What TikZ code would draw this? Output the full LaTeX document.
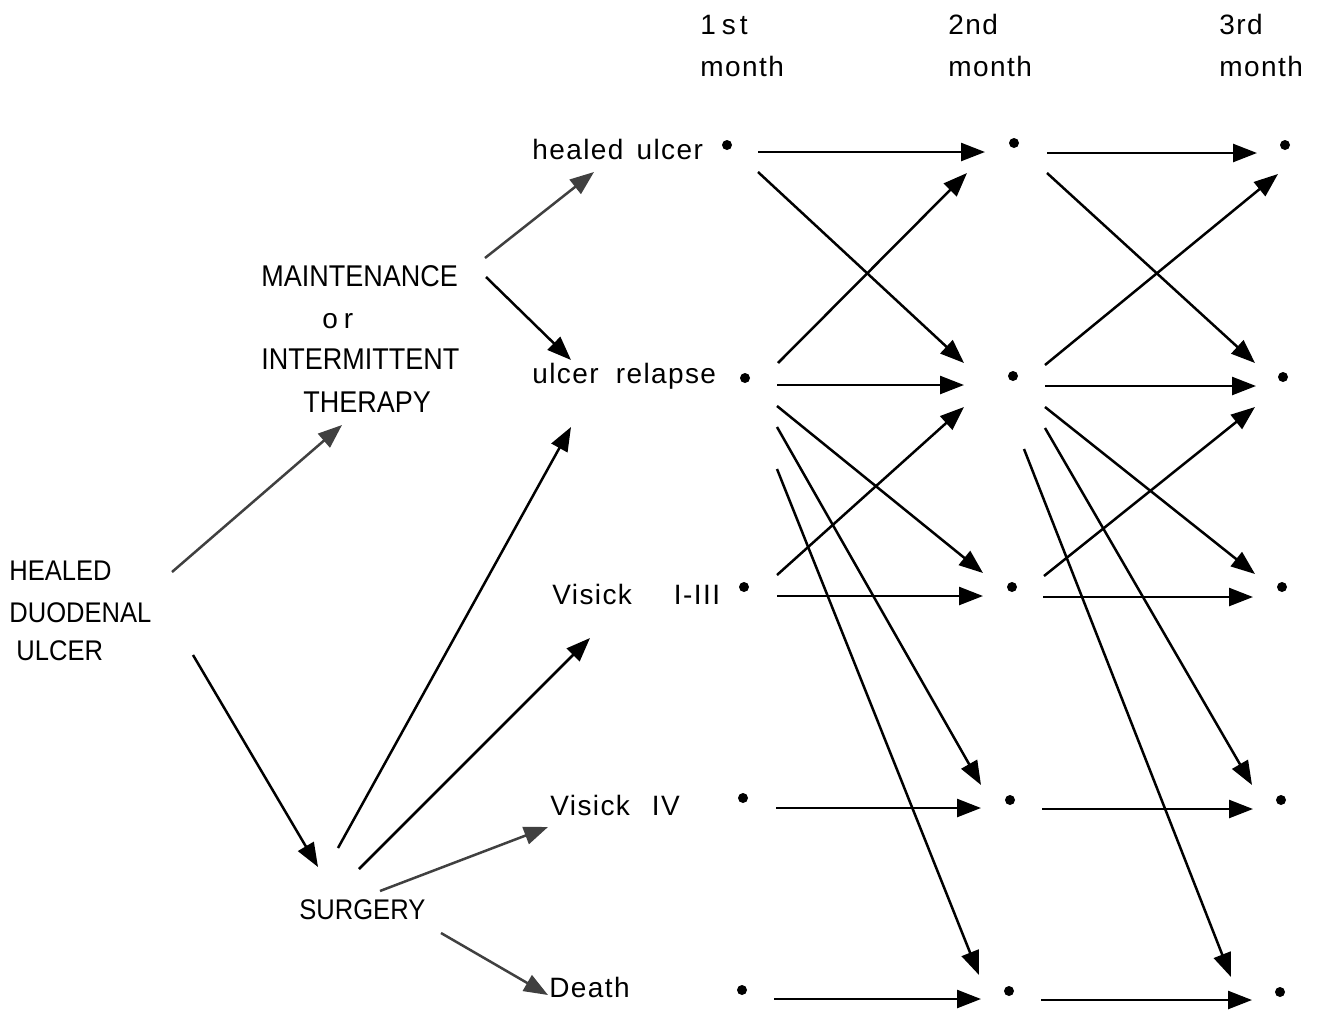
\documentclass[tikz,border=0pt]{standalone}
\usepackage{fontspec}
\setmainfont{Liberation Sans}
\newfontfamily\lowfont[LetterSpace=5]{Liberation Sans}
\newfontfamily\capfont[FakeStretch=0.9]{Liberation Sans}
\usetikzlibrary{arrows.meta}

\begin{document}
\begin{tikzpicture}[x=0.5pt,y=-0.5pt,
  lbl/.style={inner sep=0pt, anchor=base west, font=\lowfont\fontsize{14}{17}\selectfont},
  caplbl/.style={inner sep=0pt, anchor=base west, font=\capfont\fontsize{15}{18}\selectfont},
  smallcap/.style={caplbl, font=\capfont\fontsize{14.2}{17}\selectfont},
  stage/.style={circle, fill=black, inner sep=0pt, minimum size=5pt},
  arr/.style={-{Triangle[length=12pt,width=9pt]}, line width=1.25pt, draw=black},
  softarr/.style={-{Triangle[length=12pt,width=9pt]}, line width=1.25pt, draw=black!75, fill=black!75}]

\useasboundingbox[fill=white] (0,0) rectangle (1318,1013);

% ---- column headings ----
\node[lbl] (h1a) at (700,34) {1\hspace{3pt}s\hspace{2pt}t};
\node[lbl] (h1b) at (700,76) {month};
\node[lbl] (h2a) at (948,34) {2nd};
\node[lbl] (h2b) at (948,76) {month};
\node[lbl] (h3a) at (1219,34) {3rd};
\node[lbl] (h3b) at (1219,76) {month};

% ---- starting state and treatments ----
\node[smallcap] (hdu1) at (9,580) {HEALED};
\node[smallcap] (hdu2) at (9,622) {DUODENAL};
\node[smallcap] (hdu3) at (16,660) {ULCER};
\node[caplbl] (mt1) at (261,286) {MAINTENANCE};
\node[lbl]    (mt2) at (322,328) {o\hspace{3pt}r};
\node[caplbl] (mt3) at (261,369) {INTERMITTENT};
\node[caplbl] (mt4) at (303,412) {THERAPY};
\node[smallcap] (surg) at (299,919) {SURGERY};

% ---- outcome states ----
\node[lbl] (sheal) at (532,159) {healed\hspace{2pt} ulcer};
\node[lbl] (srel)  at (532,383) {ulcer\hspace{4pt} relapse};
\node[lbl] (svis1) at (552,604) {Visick\hspace{21pt}I-III};
\node[lbl] (svis4) at (550,815) {Visick\hspace{11pt}IV};
\node[lbl] (sdeath) at (549,997) {Death};

% ---- monthly stage dots ----
\node[stage] (a1) at (727,145) {};
\node[stage] (a2) at (745,378) {};
\node[stage] (a3) at (744,587) {};
\node[stage] (a4) at (743,798) {};
\node[stage] (a5) at (742,990) {};
\node[stage] (b1) at (1014,143) {};
\node[stage] (b2) at (1013,376) {};
\node[stage] (b3) at (1012,587) {};
\node[stage] (b4) at (1010,800) {};
\node[stage] (b5) at (1009,991) {};
\node[stage] (c1) at (1285,145) {};
\node[stage] (c2) at (1283,377) {};
\node[stage] (c3) at (1282,587) {};
\node[stage] (c4) at (1281,800) {};
\node[stage] (c5) at (1280,992) {};

% ---- arrow end points: treatment choice ----
\coordinate (p1s) at (172,572);  \coordinate (p1t) at (342,425);
\coordinate (p2s) at (193,655);  \coordinate (p2t) at (318,867);
\coordinate (p3s) at (485,258);  \coordinate (p3t) at (594,172);
\coordinate (p4s) at (486,277);  \coordinate (p4t) at (571,360);
\coordinate (p5s) at (338,848);  \coordinate (p5t) at (571,427);
\coordinate (p6s) at (359,869);  \coordinate (p6t) at (590,638);
\coordinate (p7s) at (380,891);  \coordinate (p7t) at (548,827);
\coordinate (p8s) at (441,933);  \coordinate (p8t) at (548,995);

\draw[softarr] (p1s) -- (p1t);
\draw[arr]     (p2s) -- (p2t);
\draw[softarr] (p3s) -- (p3t);
\draw[arr]     (p4s) -- (p4t);
\draw[arr]     (p5s) -- (p5t);
\draw[arr]     (p6s) -- (p6t);
\draw[softarr] (p7s) -- (p7t);
\draw[softarr] (p8s) -- (p8t);

% ---- arrow end points: month 1 -> month 2 ----
\coordinate (m11s) at (758,152);  \coordinate (m11t) at (985,152);
\coordinate (m22s) at (777,385);  \coordinate (m22t) at (964,385);
\coordinate (m33s) at (777,596);  \coordinate (m33t) at (983,596);
\coordinate (m44s) at (776,808);  \coordinate (m44t) at (981,808);
\coordinate (m55s) at (774,999);  \coordinate (m55t) at (981,999);
\coordinate (m12s) at (758,172);  \coordinate (m12t) at (964,363);
\coordinate (m21s) at (778,363);  \coordinate (m21t) at (967,173);
\coordinate (m23s) at (777,406);  \coordinate (m23t) at (983,573);
\coordinate (m32s) at (777,575);  \coordinate (m32t) at (964,407);
\coordinate (m24s) at (777,427);  \coordinate (m24t) at (981,785);
\coordinate (m25s) at (777,469);  \coordinate (m25t) at (979,975);

\foreach \k in {11,22,33,44,55,12,21,23,32,24,25}
  \draw[arr] (m\k s) -- (m\k t);

% ---- arrow end points: month 2 -> month 3 ----
\coordinate (n11s) at (1047,153);  \coordinate (n11t) at (1257,153);
\coordinate (n22s) at (1045,386);  \coordinate (n22t) at (1256,386);
\coordinate (n33s) at (1043,597);  \coordinate (n33t) at (1253,597);
\coordinate (n44s) at (1042,809);  \coordinate (n44t) at (1253,809);
\coordinate (n55s) at (1041,1000); \coordinate (n55t) at (1252,1000);
\coordinate (n12s) at (1047,173);  \coordinate (n12t) at (1255,363);
\coordinate (n21s) at (1045,365);  \coordinate (n21t) at (1278,174);
\coordinate (n23s) at (1045,407);  \coordinate (n23t) at (1255,574);
\coordinate (n32s) at (1044,576);  \coordinate (n32t) at (1255,407);
\coordinate (n24s) at (1045,428);  \coordinate (n24t) at (1252,785);
\coordinate (n25s) at (1024,449);  \coordinate (n25t) at (1231,977);

\foreach \k in {11,22,33,44,55,12,21,23,32,24,25}
  \draw[arr] (n\k s) -- (n\k t);

\end{tikzpicture}
\end{document}
